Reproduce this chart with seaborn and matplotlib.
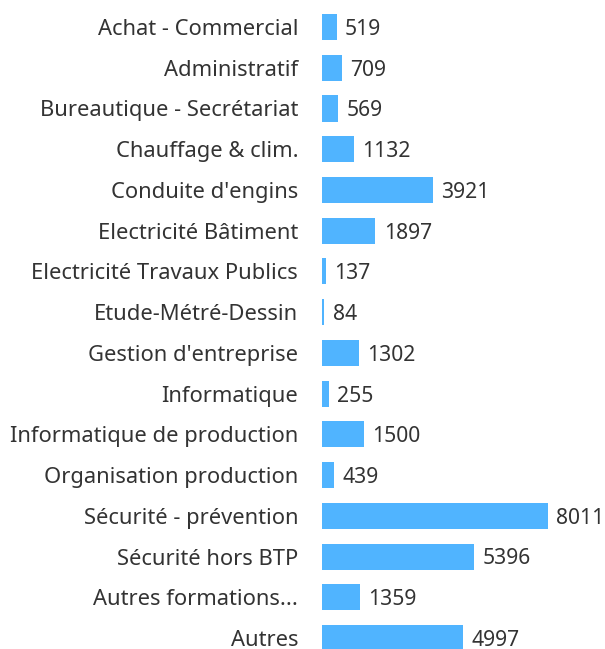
import matplotlib
matplotlib.use("Agg")
import matplotlib.pyplot as plt
import seaborn as sns
import pandas as pd

categories = ["Achat - Commercial", "Administratif", "Bureautique - Secrétariat",
              "Chauffage & clim.", "Conduite d'engins", "Electricité Bâtiment",
              "Electricité Travaux Publics", "Etude-Métré-Dessin", "Gestion d'entreprise",
              "Informatique", "Informatique de production", "Organisation production",
              "Sécurité - prévention", "Sécurité hors BTP", "Autres formations...", "Autres"]
values = [519, 709, 569, 1132, 3921, 1897, 137, 84, 1302, 255, 1500, 439, 8011, 5396, 1359, 4997]

df = pd.DataFrame({"cat": categories, "val": values})

sns.set_theme(style="white")
plt.rcParams["font.family"] = ["Noto Sans", "DejaVu Sans"]

fig = plt.figure(figsize=(6.05, 6.49), dpi=100)
ax = fig.add_axes([0.532, 0.0, 0.374, 1.0])
sns.barplot(data=df, x="val", y="cat", color="#50b4ff", saturation=1, width=0.64,
            linewidth=0, ax=ax)
ax.set_xlim(0, 8011)
ax.set_ylim(15.27, -0.663)
sns.despine(ax=ax, left=True, bottom=True)
ax.set_xticks([])
ax.set_xlabel("")
ax.set_ylabel("")
ax.tick_params(axis="y", length=0, pad=17, labelsize=15.8, labelcolor="#333333")
for i, v in enumerate(values):
    ax.annotate(str(v), (v, i + 0.06), xytext=(6, 0), textcoords="offset points",
                va="center", ha="left", fontsize=15.2, color="#333333")

fig.savefig("out.png", dpi=100)
